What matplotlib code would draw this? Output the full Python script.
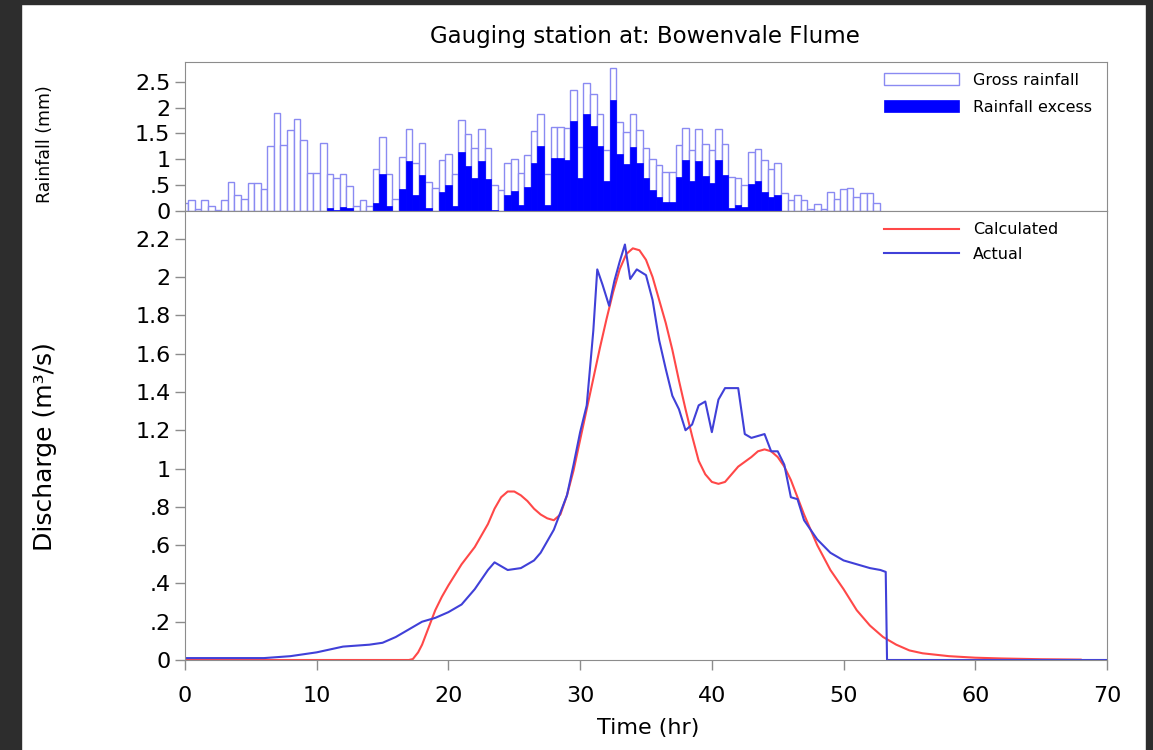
import numpy as np
import matplotlib.pyplot as plt
from matplotlib.patches import Rectangle
from matplotlib.ticker import FuncFormatter

plt.rcParams['font.family'] = ['DejaVu Sans']

# half-hourly rainfall (mm), bars centred on 0, 0.5, 1.0 ... hr
rain_step = 0.5
gross = [0.15, 0.21, 0.03, 0.21, 0.10, 0.02, 0.21, 0.57, 0.31, 0.23,
         0.54, 0.54, 0.42, 1.25, 1.89, 1.28, 1.57, 1.78, 1.38, 0.74,
         0.74, 1.32, 0.72, 0.63, 0.72, 0.48, 0.10, 0.21, 0.10, 0.82,
         1.44, 0.72, 0.24, 1.04, 1.58, 0.92, 1.31, 0.56, 0.44, 0.99,
         1.11, 0.72, 1.75, 1.48, 1.22, 1.58, 1.21, 0.50, 0.40, 0.92,
         1.00, 0.74, 1.08, 1.54, 1.87, 0.72, 1.63, 1.62, 1.60, 2.34,
         1.24, 2.47, 2.26, 1.87, 1.17, 2.76, 1.72, 1.53, 1.87, 1.56,
         1.22, 1.01, 0.88, 0.76, 0.76, 1.27, 1.61, 1.17, 1.58, 1.30,
         1.17, 1.59, 1.30, 0.66, 0.63, 0.50, 1.14, 1.19, 0.99, 0.82,
         0.92, 0.35, 0.21, 0.31, 0.21, 0.04, 0.14, 0.04, 0.36, 0.24,
         0.43, 0.44, 0.28, 0.35, 0.35, 0.15]
excess = [0, 0, 0, 0, 0, 0, 0, 0, 0, 0,
          0, 0, 0, 0, 0, 0, 0, 0, 0, 0,
          0, 0, 0.05, 0.02, 0.08, 0.05, 0, 0, 0, 0.15,
          0.71, 0.10, 0, 0.42, 0.97, 0.31, 0.69, 0.05, 0, 0.37,
          0.50, 0.10, 1.14, 0.87, 0.63, 0.97, 0.61, 0.02, 0, 0.31,
          0.39, 0.12, 0.47, 0.93, 1.25, 0.12, 1.03, 1.03, 0.99, 1.73,
          0.63, 1.87, 1.65, 1.25, 0.58, 2.15, 1.10, 0.90, 1.24, 0.93,
          0.63, 0.40, 0.28, 0.18, 0.18, 0.66, 0.99, 0.58, 0.97, 0.67,
          0.54, 0.99, 0.69, 0.06, 0.12, 0.08, 0.52, 0.58, 0.37, 0.28,
          0.31, 0, 0, 0, 0, 0, 0, 0, 0, 0,
          0, 0, 0, 0, 0, 0]
rain_t = np.arange(len(gross)) * rain_step

# discharge (m3/s)
calc_t = [0, 17, 17.3, 17.7, 18, 18.5, 19, 19.5, 20, 21, 22, 23, 23.5, 24,
          24.5, 25, 25.5, 26, 26.5, 27, 27.5, 28, 28.5, 29, 29.5, 30, 30.5,
          31, 31.5, 32, 32.5, 33, 33.5, 34, 34.5, 35, 35.5, 36, 36.5, 37,
          37.5, 38, 38.5, 39, 39.5, 40, 40.5, 41, 41.5, 42, 43, 43.5, 44,
          44.5, 45, 45.5, 46, 46.5, 47, 47.5, 48, 49, 50, 51, 52, 53, 54,
          55, 56, 58, 60, 62, 65, 68]
calc_q = [0, 0, 0.005, 0.04, 0.08, 0.17, 0.26, 0.33, 0.39, 0.50, 0.59, 0.71,
          0.79, 0.85, 0.88, 0.88, 0.86, 0.83, 0.79, 0.76, 0.74, 0.73, 0.76,
          0.86, 0.99, 1.15, 1.31, 1.47, 1.63, 1.78, 1.92, 2.04, 2.12, 2.15,
          2.14, 2.09, 2.00, 1.88, 1.76, 1.62, 1.46, 1.31, 1.17, 1.04, 0.97,
          0.93, 0.92, 0.93, 0.97, 1.01, 1.06, 1.09, 1.10, 1.09, 1.06, 1.01,
          0.94, 0.85, 0.76, 0.68, 0.60, 0.47, 0.37, 0.26, 0.18, 0.12, 0.08,
          0.05, 0.035, 0.02, 0.012, 0.008, 0.004, 0.002]

act_t = [0, 6, 8, 10, 12, 14, 15, 16, 17, 18, 19, 20, 21, 22, 23, 23.5, 24,
         24.5, 25.5, 26.5, 27, 28, 29, 29.5, 30, 30.5, 31, 31.3, 31.7, 32.2,
         32.6, 33, 33.4, 33.8, 34.3, 35, 35.5, 36, 36.5, 37, 37.5, 38, 38.5,
         39, 39.5, 40, 40.5, 41, 42, 42.5, 43, 44, 44.5, 45, 45.5, 46, 46.5,
         47, 48, 49, 50, 51, 52, 52.8, 53.2, 53.3, 70]
act_q = [0.01, 0.01, 0.02, 0.04, 0.07, 0.08, 0.09, 0.12, 0.16, 0.20, 0.22,
         0.25, 0.29, 0.37, 0.47, 0.51, 0.49, 0.47, 0.48, 0.52, 0.56, 0.68,
         0.86, 1.02, 1.19, 1.33, 1.72, 2.04, 1.96, 1.85, 1.98, 2.08, 2.17,
         1.99, 2.04, 2.01, 1.88, 1.67, 1.52, 1.38, 1.31, 1.20, 1.23, 1.33,
         1.35, 1.19, 1.36, 1.42, 1.42, 1.18, 1.16, 1.18, 1.09, 1.09, 1.02,
         0.85, 0.84, 0.73, 0.63, 0.56, 0.52, 0.50, 0.48, 0.47, 0.46, 0.0, 0.0]


def short_fmt(v, pos):
    s = f'{v:.1f}'.rstrip('0').rstrip('.')
    if s.startswith('0.'):
        s = s[1:]
    return s


W, H = 1153, 750
fig = plt.figure(figsize=(W / 100, H / 100), dpi=100)
left, right = 185 / W, 1107 / W
y_top, y_mid, y_bot = 1 - 62 / H, 1 - 211 / H, 1 - 660 / H
ax_r = fig.add_axes([left, y_mid, right - left, y_top - y_mid])
ax_q = fig.add_axes([left, y_bot, right - left, y_mid - y_bot], sharex=ax_r)

grey = '#8c8c8c'
for ax in (ax_r, ax_q):
    for sp in ax.spines.values():
        sp.set_color(grey)
    ax.tick_params(axis='both', colors=grey, labelcolor='black', labelsize=16,
                   direction='out', length=7, width=1)
    ax.yaxis.set_major_formatter(FuncFormatter(short_fmt))

# rainfall
ax_r.bar(rain_t, gross, width=rain_step, color='white', edgecolor='#8a8af2',
         linewidth=1.0, label='Gross rainfall')
ax_r.bar(rain_t, excess, width=rain_step, color='#0000ff', edgecolor='#0000ff',
         linewidth=0.5, label='Rainfall excess')
ax_r.set_ylim(0, 2.88)
ax_r.set_yticks([0, 0.5, 1, 1.5, 2, 2.5])
ax_r.tick_params(axis='x', bottom=False, labelbottom=False)
ax_r.legend(loc='upper left', bbox_to_anchor=(0.743, 1.02), frameon=False,
            fontsize=11.5, handlelength=4.7, handleheight=0.85,
            handletextpad=0.9, labelspacing=0.75, borderpad=0.35)

# discharge
ax_q.plot(calc_t, calc_q, color='#ff4848', linewidth=1.5, label='Calculated')
ax_q.plot(act_t, act_q, color='#4040d8', linewidth=1.5, label='Actual')
ax_q.set_ylim(0, 2.345)
ax_q.set_yticks(np.round(np.arange(0, 2.21, 0.2), 1))
ax_q.set_xlim(0, 70)
ax_q.set_xticks(range(0, 71, 10))
ax_q.tick_params(axis='x', pad=12)
ax_q.legend(loc='upper left', bbox_to_anchor=(0.743, 1.005), frameon=False,
            fontsize=11.5, handlelength=4.7, handletextpad=0.9,
            labelspacing=0.6, borderpad=0.35)

fig.text(645 / W, 1 - 36 / H, 'Gauging station at: Bowenvale Flume',
         ha='center', va='center', fontsize=16.5)
fig.text(648 / W, 1 - 728 / H, 'Time (hr)', ha='center', va='center', fontsize=16)
fig.text(45 / W, 1 - 144 / H, 'Rainfall (mm)', rotation=90,
         ha='center', va='center', fontsize=12.5)
fig.text(45 / W, 1 - 447 / H, 'Discharge (m³/s)', rotation=90,
         ha='center', va='center', fontsize=18)

# dark screenshot border
dark = '#2d2d2d'
fig.add_artist(Rectangle((0, 0), 21 / W, 1, transform=fig.transFigure, color=dark))
fig.add_artist(Rectangle((0, 1 - 4 / H), 1, 4 / H, transform=fig.transFigure, color=dark))
fig.add_artist(Rectangle((1 - 7 / W, 0), 7 / W, 1, transform=fig.transFigure, color=dark))

fig.savefig('out.png', dpi=100)
